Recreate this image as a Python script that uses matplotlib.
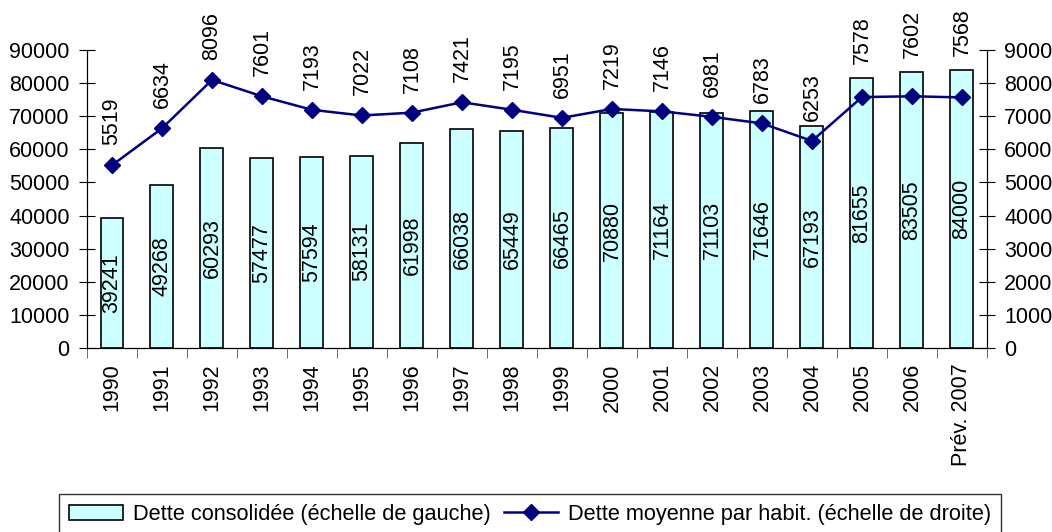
import numpy as np
import matplotlib.pyplot as plt

plt.rcParams['font.family'] = ['Liberation Sans', 'DejaVu Sans']

annees = ['1990', '1991', '1992', '1993', '1994', '1995', '1996', '1997', '1998',
          '1999', '2000', '2001', '2002', '2003', '2004', '2005', '2006', 'Prév. 2007']
dette = [39241, 49268, 60293, 57477, 57594, 58131, 61998, 66038, 65449,
         66465, 70880, 71164, 71103, 71646, 67193, 81655, 83505, 84000]
dette_hab = [5519, 6634, 8096, 7601, 7193, 7022, 7108, 7421, 7195,
             6951, 7219, 7146, 6981, 6783, 6253, 7578, 7602, 7568]

fs = 15.5
dpi = 100
fig = plt.figure(figsize=(10.52, 5.32), dpi=dpi)
ax = fig.add_axes([0.0827, 0.346, 0.8555, 0.560])
x = np.arange(len(annees))

barres = ax.bar(x, dette, width=0.46, color='#CCFFFF', edgecolor='black', linewidth=1.2,
                label='Dette consolidée (échelle de gauche)', zorder=2)
for xi, v in zip(x, dette):
    ax.text(xi, v / 2, str(v), rotation=90, ha='center', va='center', fontsize=fs, zorder=3)

ax.set_xlim(-0.5, len(annees) - 0.5)
ax.set_ylim(0, 90000)
ax.set_yticks(np.arange(0, 90001, 10000))
ax.tick_params(axis='y', direction='inout', length=11, labelsize=fs, pad=7)
ax.set_xticks(x)
ax.set_xticklabels(annees, rotation=90, fontsize=fs)
ax.tick_params(axis='x', length=0, pad=11)
ax.set_xticks(np.arange(-0.5, len(annees), 1), minor=True)
ax.tick_params(axis='x', which='minor', direction='out', length=7, color='#555555')
ax.spines['top'].set_visible(False)

ax2 = ax.twinx()
ligne, = ax2.plot(x, dette_hab, color='#000080', marker='D', markersize=8, linewidth=1.8,
                  label='Dette moyenne par habit. (échelle de droite)')
ax2.set_ylim(0, 9000)
ax2.set_yticks(np.arange(0, 9001, 1000))
ax2.tick_params(axis='y', direction='inout', length=11, labelsize=fs, pad=7)
ax2.spines['top'].set_visible(False)

# étiquettes de la courbe : au-dessus du point, remontées si elles touchent la barre
for xi, v, d in zip(x, dette_hab, dette):
    y_pt = ax2.transData.transform((xi, v))[1]
    y_bar = ax.transData.transform((xi, d))[1]
    decal = 20
    if y_pt + decal < y_bar + 3:
        decal = y_bar + 14 - y_pt
    ax2.annotate(str(v), (xi, v), xytext=(0, decal * 72 / dpi), textcoords='offset points',
                 rotation=90, ha='center', va='bottom', fontsize=fs, annotation_clip=False)

leg = fig.legend(handles=[barres, ligne], loc='upper left',
                 bbox_to_anchor=(59 / 1052, 1 - 494 / 532),
                 ncol=2, fontsize=15.7, frameon=True, fancybox=False, edgecolor='black',
                 handlelength=2.5, columnspacing=0.6, handletextpad=0.45,
                 borderpad=0.45, borderaxespad=0)
leg.get_frame().set_linewidth(1.0)

plt.savefig('out.png', dpi=dpi)
